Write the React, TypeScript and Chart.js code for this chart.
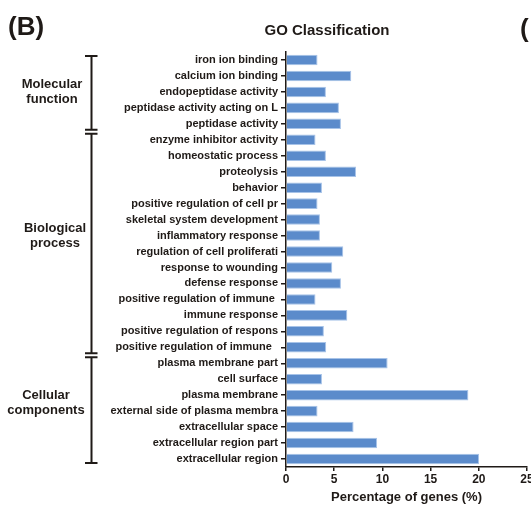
import React, { useEffect, useRef } from "react";
import { Chart, registerables } from "chart.js";

Chart.register(...registerables);

const categories: string[] = [
  "iron ion binding",
  "calcium ion binding",
  "endopeptidase activity",
  "peptidase activity acting on L",
  "peptidase activity",
  "enzyme inhibitor activity",
  "homeostatic process",
  "proteolysis",
  "behavior",
  "positive regulation of cell pr",
  "skeletal system development",
  "inflammatory response",
  "regulation of cell proliferati",
  "response to wounding",
  "defense response",
  "positive regulation of immune ",
  "immune response",
  "positive regulation of respons",
  "positive regulation of immune  ",
  "plasma membrane part",
  "cell surface",
  "plasma membrane",
  "external side of plasma membra",
  "extracellular space",
  "extracellular region part",
  "extracellular region",
];

const percentages: number[] = [
  3.27, 6.77, 4.14, 5.49, 5.7,
  3.06, 4.14, 7.26, 3.73, 3.27, 3.52, 3.52, 5.94, 4.8, 5.7, 3.06, 6.36, 3.93, 4.17,
  10.54, 3.73, 18.92, 3.27, 7.01, 9.44, 20.03,
];

const groupNames: string[][] = [
  ["Molecular", "function"],
  ["Biological", "process"],
  ["Cellular", "components"],
];
const groupStart: number[] = [0, 5, 19];
const groupEnd: number[] = [4, 18, 25];

const xTicks: number[] = [0, 5, 10, 15, 20, 25];

const TITLE = "GO Classification";
const X_TITLE = "Percentage of genes (%)";
const PANEL = "(B)";

const INK = "#1f1a17";
const FONT = "'Liberation Sans', Arial, sans-serif";

const annotations = {
  id: "annotations",
  afterDraw(chart: any) {
    const { ctx, chartArea, scales } = chart;
    const y = scales.y;
    ctx.save();
    ctx.fillStyle = INK;
    ctx.strokeStyle = INK;

    // Panel label
    ctx.font = `bold 26px ${FONT}`;
    ctx.textAlign = "left";
    ctx.textBaseline = "middle";
    ctx.fillText(PANEL, 8, 28);
    ctx.fillText("(", 520, 30);

    // Title
    ctx.font = `bold 15px ${FONT}`;
    ctx.textAlign = "center";
    ctx.fillText(TITLE, 327, 31);

    // X axis title
    ctx.font = `bold 13px ${FONT}`;
    ctx.fillText(X_TITLE, (chartArea.left + chartArea.right) / 2, 497);

    // Brackets
    const bx = 91.5;
    const capL = 85;
    const capR = 97.5;
    ctx.lineWidth = 2;
    const boundaries: number[] = [];
    for (let g = 0; g < 2; g++) {
      boundaries.push((y.getPixelForValue(groupEnd[g]) + y.getPixelForValue(groupStart[g + 1])) / 2);
    }
    const segs: [number, number][] = [
      [chartArea.top + 4, boundaries[0] - 2],
      [boundaries[0] + 2, boundaries[1] - 2],
      [boundaries[1] + 2, chartArea.bottom - 4],
    ];
    segs.forEach(([a, b]) => {
      ctx.beginPath();
      ctx.moveTo(bx, a);
      ctx.lineTo(bx, b);
      ctx.moveTo(capL, a);
      ctx.lineTo(capR, a);
      ctx.moveTo(capL, b);
      ctx.lineTo(capR, b);
      ctx.stroke();
    });

    // Group labels
    ctx.font = `bold 13px ${FONT}`;
    const centers = [
      y.getPixelForValue(2),
      y.getPixelForValue(11),
      (y.getPixelForValue(21) + y.getPixelForValue(22)) / 2,
    ];
    const xs = [52, 55, 46];
    groupNames.forEach((lines, i) => {
      const c = centers[i];
      ctx.fillText(lines[0], xs[i], c - 7.5);
      ctx.fillText(lines[1], xs[i], c + 7.5);
    });
    ctx.restore();
  },
};

export default function App() {
  const ref = useRef<HTMLCanvasElement | null>(null);
  useEffect(() => {
    if (!ref.current) return;
    const chart = new Chart(ref.current, {
      type: "bar",
      data: {
        labels: categories,
        datasets: [
          {
            data: percentages,
            backgroundColor: "#5b8bcb",
            borderColor: "#a7c3e8",
            borderWidth: 1,
            barPercentage: 0.66,
            categoryPercentage: 1,
          },
        ],
      },
      options: {
        indexAxis: "y",
        responsive: false,
        animation: false,
        layout: { padding: { top: 52, left: 0, right: 18, bottom: 0 } },
        plugins: {
          legend: { display: false },
          title: { display: false },
          tooltip: { enabled: false },
        },
        scales: {
          y: {
            type: "category",
            afterFit: (s: any) => {
              s.width = 286;
            },
            grid: {
              offset: false,
              drawOnChartArea: false,
              drawTicks: true,
              tickLength: 5,
              color: INK,
              lineWidth: 1.5,
            },
            border: { display: true, color: INK, width: 1.5 },
            ticks: {
              autoSkip: false,
              padding: 3,
              color: INK,
              font: { family: FONT, size: 11, weight: "bold" },
            },
          },
          x: {
            type: "linear",
            min: 0,
            max: 25,
            afterFit: (s: any) => {
              s.height = 42;
            },
            afterBuildTicks: (s: any) => {
              s.ticks = xTicks.map((v) => ({ value: v }));
            },
            grid: {
              drawOnChartArea: false,
              drawTicks: true,
              tickLength: 4,
              color: INK,
              lineWidth: 1.5,
            },
            border: { display: true, color: INK, width: 1.5 },
            ticks: {
              padding: 1,
              color: INK,
              font: { family: FONT, size: 12, weight: "bold" },
              maxRotation: 0,
            },
          },
        },
      },
      plugins: [annotations],
    } as any);
    return () => chart.destroy();
  }, []);
  return (
    <div style={{ position: "fixed", left: 0, top: 0, width: 531, height: 509, overflow: "hidden", background: "#fff" }}>
      <canvas ref={ref} width={545} height={509} style={{ width: 545, height: 509, display: "block" }} />
    </div>
  );
}
